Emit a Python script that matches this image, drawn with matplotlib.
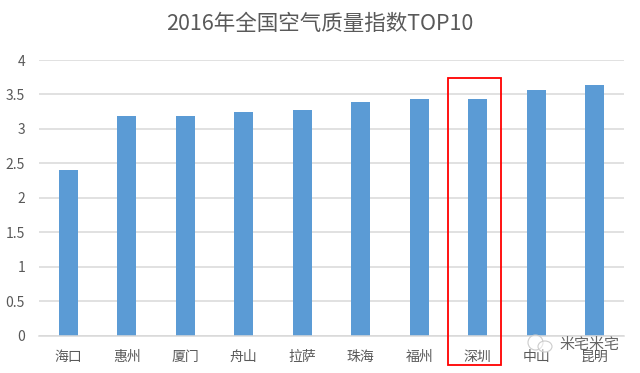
import matplotlib
matplotlib.use("Agg")
import matplotlib.pyplot as plt
from matplotlib.patches import Rectangle, Ellipse

plt.rcParams['font.family'] = ['Noto Sans CJK SC', 'DejaVu Sans']

cities = ["海口", "惠州", "厦门", "舟山", "拉萨", "珠海", "福州", "深圳", "中山", "昆明"]
values = [2.40, 3.18, 3.18, 3.24, 3.28, 3.39, 3.43, 3.44, 3.56, 3.64]
yticks = [0, 0.5, 1, 1.5, 2, 2.5, 3, 3.5, 4]
ytick_labels = ["0", "0.5", "1", "1.5", "2", "2.5", "3", "3.5", "4"]

W, H = 640, 373

fig = plt.figure(figsize=(6.4, 3.73), dpi=100)
ax = fig.add_axes([39 / W, 1 - 335.5 / H, (624 - 39) / W, (335.5 - 60) / H])

x = list(range(len(cities)))
ax.bar(x, values, width=0.32, color="#5B9BD5", zorder=2)
ax.set_xlim(-0.5, 9.5)
ax.set_ylim(0, 4)
ax.set_yticks(yticks)
ax.set_yticklabels(ytick_labels)
ax.set_xticks(x)
ax.set_xticklabels(cities)
ax.tick_params(axis='both', length=0, labelsize=10, labelcolor="#595959")
ax.tick_params(axis='x', pad=10.5)
ax.tick_params(axis='y', pad=10)
ax.grid(axis='y', color="#D9D9D9", linewidth=1.1, zorder=0)
for s in ['top', 'right', 'left']:
    ax.spines[s].set_visible(False)
ax.spines['bottom'].set_color("#D9D9D9")
ax.spines['bottom'].set_linewidth(1.1)

fig.text(0.5, 1 - 24 / H, "2016年全国空气质量指数TOP10", ha='center', va='center', fontsize=15.5, color="#595959")

# red box around 深圳
fig.add_artist(Rectangle((448 / W, 1 - 365 / H), 53 / W, 287 / H, fill=False,
                         edgecolor="#FF0000", linewidth=1.3, transform=fig.transFigure))

# watermark icon, two speech bubbles
fig.add_artist(Ellipse((535.5 / W, 1 - 342.5 / H), 15 / W, 15 / H, facecolor=(1, 1, 1, 0.5), edgecolor="#CCCCCC",
                       linewidth=0.8, transform=fig.transFigure))
fig.add_artist(Ellipse((545 / W, 1 - 346.5 / H), 14 / W, 11 / H, facecolor=(1, 1, 1, 0.5), edgecolor="#CCCCCC",
                       linewidth=0.8, transform=fig.transFigure))

# watermark
fig.text(559 / W, 1 - 345 / H, "米宅米宅", ha='left', va='center', fontsize=10.8, color="#666666")

fig.savefig("out.png", dpi=100)
